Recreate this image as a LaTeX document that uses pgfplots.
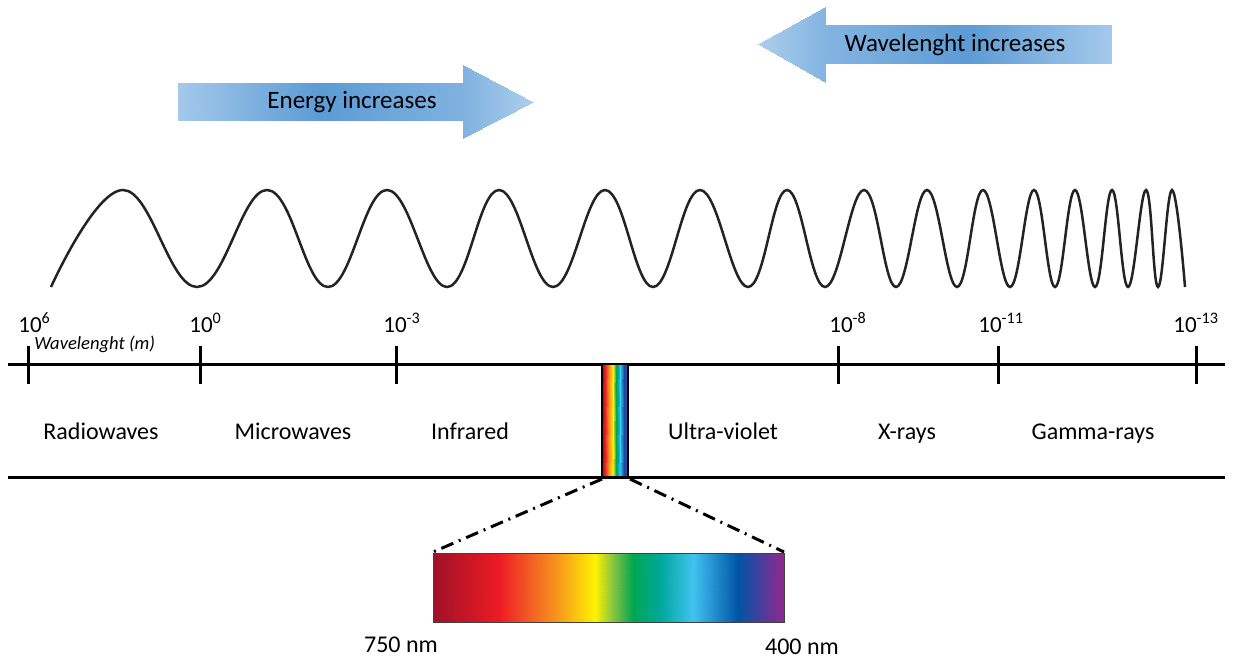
\documentclass[border=0pt]{standalone}
\usepackage{fontspec}
\setmainfont{Carlito}
\usepackage{pgfplots}
\pgfplotsset{compat=1.18}
\definecolor{wave}{RGB}{35,35,35}
\tikzset{
  lbl/.style={anchor=base, font=\fontsize{12}{14}\selectfont},
  tck/.style={anchor=base west, inner sep=0, font=\fontsize{11.5}{13}\selectfont}
}

\begin{document}
\begin{tikzpicture}
  \begin{axis}[
      width=617.5pt, height=329.5pt, scale only axis,
      xmin=0, xmax=1235, ymin=0, ymax=659, y dir=reverse,
      hide axis, clip=false,
      point meta min=0, point meta max=100,
      colormap={arrowmap}{rgb255(0cm)=(172,206,237); rgb255(1cm)=(92,155,213)},
      colormap={spectrum}{rgb255(0cm)=(160,16,40); rgb255(19cm)=(237,28,36);
        rgb255(27cm)=(241,90,36); rgb255(35cm)=(247,148,29); rgb255(46cm)=(255,242,0);
        rgb255(51cm)=(141,198,63); rgb255(57cm)=(0,166,81); rgb255(65cm)=(0,169,157);
        rgb255(74cm)=(65,195,240); rgb255(87cm)=(0,84,166); rgb255(100cm)=(146,39,143)}
    ]
    \path (axis cs:0,0) rectangle (axis cs:1235,659);

    % block arrows (shaded patches)
    \addplot[patch, patch type=rectangle, shader=interp, point meta=explicit, colormap name=arrowmap] coordinates {
      (178,83)[10] (320,83)[100] (320,120)[100] (178,120)[10]
      (320,83)[100] (463,83)[55] (463,120)[55] (320,120)[100]
      (968,25)[100] (1111,25)[10] (1111,63)[10] (968,63)[100]
      (825,25)[50] (968,25)[100] (968,63)[100] (825,63)[50]
    };
    \addplot[patch, shader=interp, point meta=explicit, colormap name=arrowmap] coordinates {
      (463,65)[55] (533,101.5)[0] (463,138)[55]
      (758,44)[0] (825,7)[50] (825,82)[50]
    };
    \node[lbl, font=\fontsize{12.5}{14}\selectfont] at (axis cs:352,108) {Energy increases};
    \node[lbl, font=\fontsize{12.5}{14}\selectfont] at (axis cs:955,52) {Wavelenght increases};

    % wave, crests and troughs
    \addplot[wave, line width=1.25pt, smooth, tension=0.7] coordinates {
      (51,287) (123,190) (197,287) (267,190) (328,287) (387,190) (447,287)
      (499,190) (553,287) (605,190) (653,287) (700,190) (748,287) (787,190)
      (825,287) (864,190) (896,287) (927,190) (957,287) (983,190) (1010,287)
      (1034,190) (1055,287) (1075,190) (1095,287) (1112,190) (1128,287)
      (1146,190) (1158,287) (1172,190) (1185,287)
    };

    % wavelength scale
    \addplot[black, line width=1.5pt] coordinates {(8,364) (1225,364)};
    \addplot[black, line width=1.5pt] coordinates {(8,477) (1225,477)};
    \addplot[black, line width=1.5pt, unbounded coords=jump] coordinates {
      (28,346) (28,384) (nan,nan)
      (200,346) (200,384) (nan,nan)
      (396,346) (396,384) (nan,nan)
      (838,346) (838,384) (nan,nan)
      (998,346) (998,384) (nan,nan)
      (1196,346) (1196,384)
    };

    \node[tck] at (axis cs:18,332) {10\textsuperscript{6}};
    \node[tck] at (axis cs:189,332) {10\textsuperscript{0}};
    \node[tck] at (axis cs:383,332) {10\textsuperscript{-3}};
    \node[tck] at (axis cs:829,332) {10\textsuperscript{-8}};
    \node[tck] at (axis cs:978,332) {10\textsuperscript{-11}};
    \node[tck] at (axis cs:1173,332) {10\textsuperscript{-13}};
    \node[anchor=west, inner sep=0, font=\itshape\fontsize{9.3}{10}\selectfont] at (axis cs:34,344) {Wavelenght (m)};

    \node[lbl] at (axis cs:101,439) {Radiowaves};
    \node[lbl] at (axis cs:293,439) {Microwaves};
    \node[lbl] at (axis cs:470,439) {Infrared};
    \node[lbl] at (axis cs:723,439) {Ultra-violet};
    \node[lbl] at (axis cs:907,439) {X-rays};
    \node[lbl] at (axis cs:1093,439) {Gamma-rays};

    % visible band on the scale
    \addplot[patch, patch type=rectangle, shader=interp, point meta=explicit, colormap name=spectrum] coordinates {
      (602,364)[0] (605,364)[19] (605,477)[19] (602,477)[0]
      (605,364)[19] (609,364)[35] (609,477)[35] (605,477)[19]
      (609,364)[35] (612.5,364)[46] (612.5,477)[46] (609,477)[35]
      (612.5,364)[46] (616,364)[57] (616,477)[57] (612.5,477)[46]
      (616,364)[57] (620,364)[74] (620,477)[74] (616,477)[57]
      (620,364)[74] (624,364)[87] (624,477)[87] (620,477)[74]
      (624,364)[87] (628,364)[100] (628,477)[100] (624,477)[87]
    };
    \addplot[black, line width=1pt] coordinates {(602,364) (628,364) (628,477) (602,477)} -- cycle;

    % zoom lines
    \addplot[black, line width=1.5pt, dash pattern=on 6.5pt off 3pt on 1pt off 3pt]
      coordinates {(602,479) (433,552)};
    \addplot[black, line width=1.5pt, dash pattern=on 6.5pt off 3pt on 1pt off 3pt]
      coordinates {(630,479) (784,552)};

    % visible spectrum
    \addplot[patch, patch type=rectangle, shader=interp, point meta=explicit, colormap name=spectrum] coordinates {
      (433,553)[0] (499.7,553)[19] (499.7,622)[19] (433,622)[0]
      (499.7,553)[19] (527.8,553)[27] (527.8,622)[27] (499.7,622)[19]
      (527.8,553)[27] (555.9,553)[35] (555.9,622)[35] (527.8,622)[27]
      (555.9,553)[35] (594.5,553)[46] (594.5,622)[46] (555.9,622)[35]
      (594.5,553)[46] (612.0,553)[51] (612.0,622)[51] (594.5,622)[46]
      (612.0,553)[51] (633.1,553)[57] (633.1,622)[57] (612.0,622)[51]
      (633.1,553)[57] (661.2,553)[65] (661.2,622)[65] (633.1,622)[57]
      (661.2,553)[65] (692.7,553)[74] (692.7,622)[74] (661.2,622)[65]
      (692.7,553)[74] (738.4,553)[87] (738.4,622)[87] (692.7,622)[74]
      (738.4,553)[87] (784,553)[100] (784,622)[100] (738.4,622)[87]
    };
    \addplot[black!75, line width=0.5pt] coordinates {(433,553) (784,553) (784,622) (433,622)} -- cycle;

    \node[lbl] at (axis cs:401,652) {750 nm};
    \node[lbl] at (axis cs:802,654) {400 nm};
  \end{axis}
\end{tikzpicture}
\end{document}
